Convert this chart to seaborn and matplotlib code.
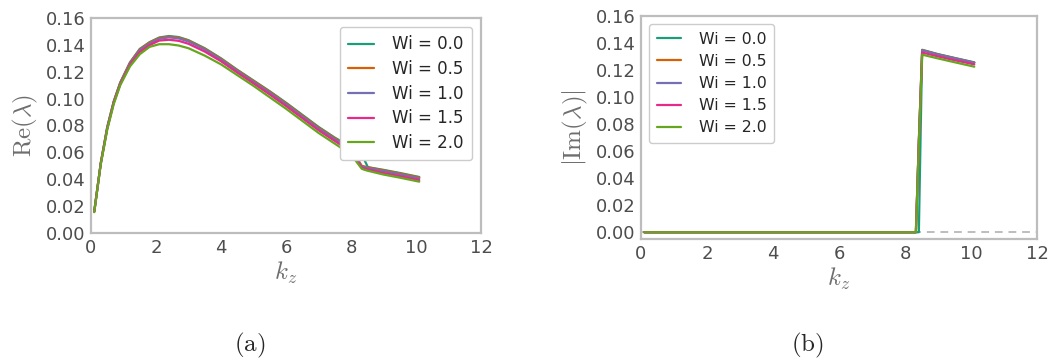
import numpy as np
import pandas as pd
import matplotlib
matplotlib.use("Agg")
import matplotlib.pyplot as plt
import seaborn as sns

sns.set_style("white")
plt.rcParams['font.family'] = ['DejaVu Sans']
plt.rcParams['mathtext.fontset'] = 'cm'

# wavenumber grid
kz = [0.1, 0.3, 0.5, 0.7, 0.9, 1.2, 1.5, 1.8, 2.1, 2.4, 2.7, 3.0, 3.5, 4.0, 4.5,
      5.0, 5.5, 6.0, 6.5, 7.0, 7.5, 8.0, 8.33, 8.42, 8.52, 9.0, 9.5, 10.1]

wi_labels = ["Wi = 0.0", "Wi = 0.5", "Wi = 1.0", "Wi = 1.5", "Wi = 2.0"]

# real part of growth rate
re_wi00 = [0.016, 0.052, 0.079, 0.098, 0.112, 0.127, 0.137, 0.142, 0.1455, 0.1466, 0.1458, 0.1435, 0.1375, 0.1300,
           0.1215, 0.1135, 0.1055, 0.0970, 0.0880, 0.0790, 0.0710, 0.0640, 0.0575, 0.0540, 0.0490, 0.0470, 0.0447, 0.0417]
re_wi05 = [0.016, 0.052, 0.0785, 0.0978, 0.1118, 0.1267, 0.1366, 0.1417, 0.1451, 0.1462, 0.1454, 0.1431, 0.1371, 0.1296,
           0.1211, 0.1131, 0.1051, 0.0965, 0.0875, 0.0785, 0.0705, 0.0632, 0.0500, 0.0495, 0.0489, 0.0466, 0.0443, 0.0413]
re_wi10 = [0.016, 0.0518, 0.0782, 0.0975, 0.1115, 0.1262, 0.1360, 0.1410, 0.1445, 0.1456, 0.1448, 0.1425, 0.1365, 0.1290,
           0.1205, 0.1124, 0.1044, 0.0958, 0.0868, 0.0778, 0.0698, 0.0623, 0.0495, 0.0490, 0.0484, 0.0460, 0.0437, 0.0406]
re_wi15 = [0.0158, 0.0515, 0.0776, 0.0968, 0.1107, 0.1252, 0.1347, 0.1398, 0.1432, 0.1438, 0.1430, 0.1408, 0.1350, 0.1278,
           0.1194, 0.1113, 0.1031, 0.0945, 0.0855, 0.0765, 0.0685, 0.0606, 0.0487, 0.0480, 0.0473, 0.0447, 0.0424, 0.0394]
re_wi20 = [0.0155, 0.051, 0.077, 0.096, 0.110, 0.124, 0.133, 0.1385, 0.1405, 0.1405, 0.1395, 0.1375, 0.1320, 0.1255,
           0.1175, 0.1095, 0.1010, 0.0925, 0.0835, 0.0745, 0.0665, 0.0585, 0.0478, 0.0470, 0.0463, 0.0435, 0.0412, 0.0382]

# |imaginary part|
zeros = [0.0] * 22
im_wi00 = zeros + [0.0, 0.0, 0.1350, 0.1318, 0.1290, 0.1257]
im_wi05 = zeros + [0.0, 0.068, 0.1348, 0.1316, 0.1288, 0.1255]
im_wi10 = zeros + [0.0, 0.068, 0.1346, 0.1315, 0.1287, 0.1254]
im_wi15 = zeros + [0.0, 0.067, 0.1330, 0.1301, 0.1273, 0.1242]
im_wi20 = zeros + [0.0, 0.066, 0.1314, 0.1286, 0.1258, 0.1225]

re_all = [re_wi00, re_wi05, re_wi10, re_wi15, re_wi20]
im_all = [im_wi00, im_wi05, im_wi10, im_wi15, im_wi20]

rows = []
for lab, re, im in zip(wi_labels, re_all, im_all):
    for k, r, i in zip(kz, re, im):
        rows.append({"kz": k, "re": r, "im": i, "Wi": lab})
df = pd.DataFrame(rows)

palette = sns.color_palette("Dark2", 5)
spine_col = "#bdbdbd"
tick_col = "#4d4d4d"
label_col = "#6e6e6e"

fig = plt.figure(figsize=(10.51, 3.61), dpi=100)
ax1 = fig.add_axes([91 / 1051, 128 / 361, 390 / 1051, 215 / 361])
ax2 = fig.add_axes([641 / 1051, 122 / 361, 396 / 1051, 223 / 361])

sns.lineplot(data=df, x="kz", y="re", hue="Wi", hue_order=wi_labels, palette=palette,
             linewidth=1.6, ax=ax1, estimator=None, sort=False)
ax2.axhline(0, color=spine_col, ls="--", lw=1.4, dashes=(4, 3), zorder=0)
sns.lineplot(data=df, x="kz", y="im", hue="Wi", hue_order=wi_labels, palette=palette,
             linewidth=1.6, ax=ax2, estimator=None, sort=False)

ax1.set_ylim(0, 0.16)
ax2.set_ylim(-0.005, 0.16)
ax1.set_ylabel(r"$\mathrm{Re}(\lambda)$", fontsize=18, color=label_col, labelpad=4)
ax2.set_ylabel(r"$|\mathrm{Im}(\lambda)|$", fontsize=18, color=label_col, labelpad=4)

for ax in (ax1, ax2):
    ax.set_xlim(0, 12)
    ax.set_xticks(np.arange(0, 13, 2))
    ax.set_yticks(np.arange(0, 0.161, 0.02))
    ax.yaxis.set_major_formatter(matplotlib.ticker.FormatStrFormatter("%.2f"))
    ax.set_xlabel(r"$k_z$", fontsize=18, color=label_col, labelpad=2)
    ax.tick_params(labelsize=13, colors=tick_col, length=0, pad=4)
    for s in ax.spines.values():
        s.set_color(spine_col)
        s.set_linewidth(1.6)

ax1.legend(loc="upper right", bbox_to_anchor=(0.977, 0.958), borderaxespad=0,
           fontsize=12, frameon=True, framealpha=1, handlelength=1.56, handletextpad=1.1,
           borderpad=0.5, labelspacing=0.4)
ax2.legend(loc="upper left", bbox_to_anchor=(0.020, 0.964), borderaxespad=0,
           fontsize=11.3, frameon=True, framealpha=1, handlelength=1.56, handletextpad=1.1,
           borderpad=0.5, labelspacing=0.45)

fig.text(250 / 1051, 1 - 345 / 361, r"$\mathrm{(a)}$", fontsize=18, ha="center", va="center")
fig.text(807 / 1051, 1 - 345 / 361, r"$\mathrm{(b)}$", fontsize=18, ha="center", va="center")

fig.savefig("out.png", dpi=100)
